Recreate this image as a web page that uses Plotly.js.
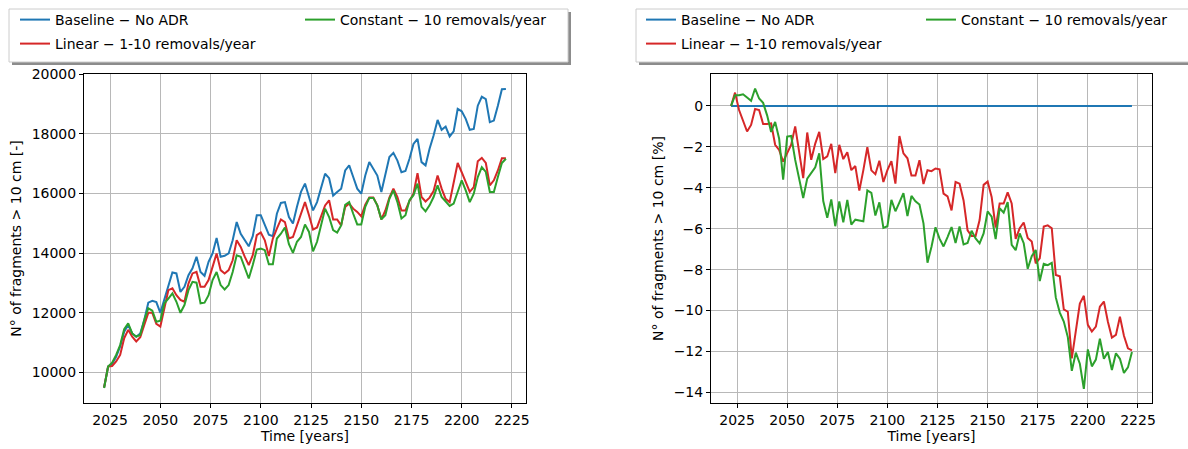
<!DOCTYPE html>
<html>
<head>
<meta charset="utf-8">
<script src="https://cdn.plot.ly/plotly-3.0.1.min.js"></script>
<style>html,body{margin:0;padding:0;background:#fff;}#chart{width:1188px;height:449px;}</style>
</head>
<body>
<div id="chart"></div>
<script>
const years = [2022,2024,2026,2028,2030,2032,2034,2036,2038,2040,2042,2044,2046,2048,2050,2052,2054,2056,2058,2060,
2062,2064,2066,2068,2070,2072,2074,2076,2078,2080,2082,2084,2086,2088,2090,2092,2094,2096,2098,2100,
2102,2104,2106,2108,2110,2112,2114,2116,2118,2120,2122,2124,2126,2128,2130,2132,2134,2136,2138,2140,
2142,2144,2146,2148,2150,2152,2154,2156,2158,2160,2162,2164,2166,2168,2170,2172,2174,2176,2178,2180,
2182,2184,2186,2188,2190,2192,2194,2196,2198,2200,2202,2204,2206,2208,2210,2212,2214,2216,2218,2220,2222];

const seriesNames = ["Baseline \u2212 No ADR", "Linear \u2212 1-10 removals/year", "Constant \u2212 10 removals/year"];

const baselineCount = [9500,10200,10290,10530,10870,11370,11590,11310,11200,11310,11760,12340,12400,12360,12000,12430,12870,13350,13320,12700,
12870,13260,13490,13880,13370,13240,13710,13990,14510,13880,13910,13990,14430,15040,14650,14430,14230,14570,15270,15270,
14930,14620,14570,15320,15680,15710,15210,14990,15550,16050,16330,15860,15430,15710,16160,16660,16510,15930,16050,16160,
16770,16940,16550,16160,15990,16600,17050,16830,16600,16050,16660,17220,17360,17100,16710,16750,17160,17660,17830,17050,
16940,17500,17940,18460,18130,18240,17910,18080,18830,18750,18500,18130,18160,18940,19240,19160,18390,18440,18940,19490,19500];

const linearCount = [9500,10200,10220,10370,10590,11150,11430,11200,11040,11180,11590,12000,12000,11630,11540,12200,12760,12820,12590,12430,
12370,12980,13320,13370,12870,12870,13100,13540,13990,13430,13320,13430,13760,14430,14210,13880,13600,13930,14600,14690,
14430,13900,14490,14820,15130,15040,14490,14540,14930,15320,15710,15270,14790,14860,15210,15600,15770,15130,15130,14930,
15550,15660,15490,15380,15230,15620,15860,15860,15600,15130,15430,15860,16160,15880,15430,15430,15750,15990,16680,15880,
15730,15860,16080,16600,16160,15820,15710,16330,17020,16710,16380,16050,16210,17080,17190,17020,16270,16440,16770,17180,17180];

const constantCount = [9480,10200,10330,10590,10920,11450,11650,11310,11200,11260,11760,12150,12070,11700,11740,12320,12480,12650,12370,12000,
12260,12760,13040,13010,12320,12340,12590,13100,13370,12930,12780,12930,13370,13930,13880,13540,13150,13600,14120,14150,
14100,13630,13630,14490,14650,14860,14300,14010,14380,14540,14960,14710,14060,14380,14990,15490,15210,14770,14690,14930,
15620,15710,15320,14960,14960,15550,15850,15850,15600,15130,15270,15820,16100,15710,15160,15270,15770,15940,16330,15550,
15400,15600,15880,16270,15880,15710,15580,15660,16050,16440,16100,15710,15990,16550,16880,16720,16050,16050,16550,17020,17160];

const baselinePct = [0,0,0,0,0,0,0,0,0,0,0,0,0,0,0,0,0,0,0,0,
0,0,0,0,0,0,0,0,0,0,0,0,0,0,0,0,0,0,0,0,
0,0,0,0,0,0,0,0,0,0,0,0,0,0,0,0,0,0,0,0,
0,0,0,0,0,0,0,0,0,0,0,0,0,0,0,0,0,0,0,0,
0,0,0,0,0,0,0,0,0,0,0,0,0,0,0,0,0,0,0,0,0];

const linearPct = [0,0.65,-0.2,-0.77,-1.25,-0.93,-0.15,-0.2,-0.88,-0.88,-0.85,-1.9,-2.15,-2.72,-2.3,-1.9,-1.0,-2.3,-3.53,-1.3,
-2.63,-1.84,-1.27,-2.6,-2.47,-1.85,-3.28,-1.9,-2.6,-2.26,-3.14,-2.94,-4.14,-3.14,-2.02,-3.15,-3.34,-2.68,-3.72,-3.14,
-2.7,-3.8,-1.47,-2.32,-2.56,-3.4,-3.4,-2.65,-3.82,-3.14,-3.19,-3.06,-3.1,-4.29,-4.42,-5.11,-3.72,-3.8,-4.62,-6.08,
-6.36,-6.36,-5.58,-3.86,-3.7,-4.45,-5.95,-4.77,-4.77,-4.23,-4.77,-6.5,-5.98,-5.7,-6.45,-6.63,-7.69,-7.45,-5.9,-5.84,
-5.98,-8.26,-8.33,-9.94,-10.06,-12.34,-10.87,-9.66,-9.28,-10.7,-11.03,-10.79,-9.81,-9.56,-10.55,-11.32,-11.19,-10.3,-11.23,-11.85,-11.95];

const constantPct = [0,0.52,0.52,0.57,0.41,0.25,0.85,0.36,0.15,-0.46,-1.27,-0.78,-1.6,-3.6,-1.5,-1.47,-2.64,-3.6,-4.5,-3.55,
-3.25,-3.0,-2.32,-4.65,-5.47,-4.57,-5.88,-4.67,-5.69,-4.59,-5.8,-5.56,-5.6,-5.64,-4.13,-4.25,-5.36,-4.71,-5.96,-5.88,
-4.59,-5.15,-4.71,-4.26,-5.38,-4.4,-4.66,-4.82,-5.74,-7.66,-6.88,-5.93,-6.49,-6.87,-6.41,-5.92,-6.7,-5.89,-6.77,-6.7,
-6.1,-6.48,-6.72,-6.23,-5.16,-5.41,-6.51,-5.0,-5.22,-4.7,-6.79,-7.05,-6.23,-6.71,-7.96,-7.34,-7.04,-8.56,-7.72,-7.78,
-7.67,-9.36,-10.1,-10.54,-11.3,-12.95,-12.06,-12.6,-13.83,-11.9,-12.73,-12.4,-11.38,-12.36,-12.03,-12.91,-12.09,-12.36,-13.05,-12.78,-12.03];

const colors = ["#1f77b4", "#d62728", "#2ca02c"];
const W = 1188, H = 449;
const FONT = "DejaVu Sans";

function px(x) { return x / W; }
function py(y) { return 1 - y / H; }

const leftSeries = [baselineCount, linearCount, constantCount];
const rightSeries = [baselinePct, linearPct, constantPct];

const traces = [];
leftSeries.forEach(function (ys, i) {
  traces.push({
    x: years, y: ys, type: "scatter", mode: "lines", name: seriesNames[i],
    line: { color: colors[i], width: 2 }, xaxis: "x", yaxis: "y",
    legend: ["legend", "legend2", "legend3"][i], hoverinfo: "x+y"
  });
});
rightSeries.forEach(function (ys, i) {
  traces.push({
    x: years, y: ys, type: "scatter", mode: "lines", name: seriesNames[i],
    line: { color: colors[i], width: 2 }, xaxis: "x2", yaxis: "y2",
    legend: ["legend4", "legend5", "legend6"][i], hoverinfo: "x+y"
  });
});

function leg(xpx, ypx) {
  return {
    x: px(xpx), y: py(ypx), xref: "paper", yref: "paper", xanchor: "left", yanchor: "middle",
    bgcolor: "rgba(0,0,0,0)", borderwidth: 0, itemwidth: 30,
    font: { family: FONT, size: 14, color: "#000" }
  };
}

const axisCommon = {
  showline: true, linecolor: "#000", linewidth: 1, mirror: true,
  ticks: "outside", ticklen: 4, tickwidth: 1, tickcolor: "#000",
  showgrid: true, gridcolor: "#b8b8b8", gridwidth: 1, zeroline: false,
  tickfont: { family: FONT, size: 14, color: "#000" }
};

const xCommon = Object.assign({}, axisCommon, {
  range: [2012, 2232], tick0: 2025, dtick: 25, tickformat: "d",
  title: { text: "Time [years]", font: { family: FONT, size: 14, color: "#000" }, standoff: 4 }
});

const layout = {
  width: W, height: H,
  margin: { l: 0, r: 0, t: 0, b: 0 },
  paper_bgcolor: "#fff", plot_bgcolor: "#fff",
  font: { family: FONT, size: 14, color: "#000" },
  xaxis: Object.assign({}, xCommon, { domain: [px(84), px(526)], anchor: "y" }),
  yaxis: Object.assign({}, axisCommon, {
    domain: [py(403), py(74)], anchor: "x",
    range: [8979, 20001], tick0: 10000, dtick: 2000, tickformat: "d",
    title: { text: "N\u00b0 of fragments > 10 cm [-]", font: { family: FONT, size: 14, color: "#000" }, standoff: 6 }
  }),
  xaxis2: Object.assign({}, xCommon, { domain: [px(711), px(1152)], anchor: "y2" }),
  yaxis2: Object.assign({}, axisCommon, {
    domain: [py(403), py(74)], anchor: "x2",
    range: [-14.52, 1.56], tick0: 0, dtick: 2, tickformat: "d",
    title: { text: "N\u00b0 of fragments > 10 cm [%]", font: { family: FONT, size: 14, color: "#000" }, standoff: 6 }
  }),
  showlegend: true,
  legend: leg(15, 20),
  legend2: leg(15, 44),
  legend3: leg(300, 20),
  legend4: leg(641, 20),
  legend5: leg(641, 44),
  legend6: leg(921, 20),
  shapes: [
    { type: "rect", xref: "paper", yref: "paper", x0: px(12), x1: px(571), y0: py(12), y1: py(65),
      fillcolor: "rgba(0,0,0,0.45)", line: { width: 0 }, layer: "above" },
    { type: "rect", xref: "paper", yref: "paper", x0: px(9), x1: px(568), y0: py(9), y1: py(62),
      fillcolor: "#ffffff", line: { color: "#cccccc", width: 1 }, layer: "above" },
    { type: "rect", xref: "paper", yref: "paper", x0: px(639), x1: px(1210), y0: py(12), y1: py(65),
      fillcolor: "rgba(0,0,0,0.45)", line: { width: 0 }, layer: "above" },
    { type: "rect", xref: "paper", yref: "paper", x0: px(636), x1: px(1207), y0: py(9), y1: py(62),
      fillcolor: "#ffffff", line: { color: "#cccccc", width: 1 }, layer: "above" }
  ]
};

Plotly.newPlot("chart", traces, layout, { displayModeBar: false, staticPlot: true });
</script>
</body>
</html>
